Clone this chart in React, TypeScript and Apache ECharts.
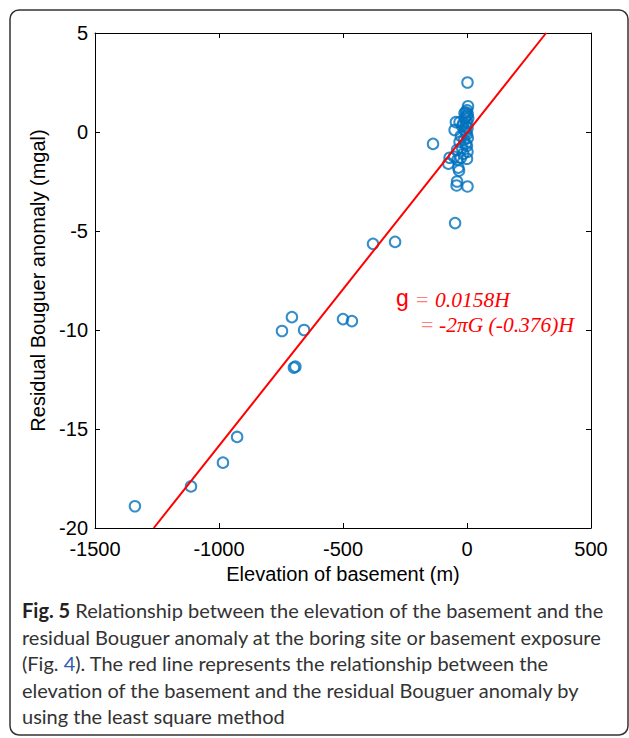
import React, { useEffect, useRef } from "react";
import * as echarts from "echarts";

// Elevation of basement (m) and residual Bouguer anomaly (mgal)
const elevation: number[] = [
  -1339, -1113, -984, -927, -746, -706, -657, -698, -692, -500, -464, -379, -290, -137, -48, 2,
  4, 0, -5, -10, 3, -2, -8, 5, -45, -30, 0, -15, -3, -20, 2, -50, -10, -5, 0, -25, 3, -12, -30,
  -5, 0, -20, -40, 2, -15, -52, -70, -38, 0, -75, -25, -35, -32, -40, -42, 2,
];
const anomaly: number[] = [
  -18.9, -17.9, -16.7, -15.4, -10.05, -9.35, -10.0, -11.9, -11.85, -9.45, -9.55, -5.65, -5.55, -0.6, -4.6, 2.5,
  1.3, 1.1, 1.0, 0.95, 0.9, 0.8, 0.7, 0.7, 0.5, 0.5, 0.5, 0.45, 0.3, 0.3, 0.2, 0.1, 0.1, 0.0, -0.1, -0.2, -0.3, -0.4, -0.5,
  -0.6, -0.7, -0.8, -0.9, -1.0, -1.1, -1.25, -1.3, -1.4, -1.35, -1.6, -1.3, -1.8, -1.95, -2.5, -2.7, -2.75,
];

// Least-squares fit line endpoints (g = 0.0158H)
const fitLine: [number, number][] = [
  [-1263, -20],
  [319, 5],
];

const xTicks = { min: -1500, max: 500, step: 500 };
const yTicks = { min: -20, max: 5, step: 5 };

const captionLines: string[] = [
  "{b|Fig. 5} Relationship between the elevation of the basement and the",
  "residual Bouguer anomaly at the boring site or basement exposure",
  "(Fig. {blue|4}). The red line represents the relationship between the",
  "elevation of the basement and the residual Bouguer anomaly by",
  "using the least square method",
];

export default function App() {
  const ref = useRef<HTMLDivElement>(null);

  useEffect(() => {
    if (!ref.current) return;
    const chart = echarts.init(ref.current, undefined, { renderer: "svg" });
    const axisFont = { fontFamily: "Liberation Sans, Arial, sans-serif", fontSize: 20, color: "#000" };
    const lineStyle = { color: "#000", width: 1 };
    const plain = (v: number) => String(v);

    const points = elevation.map((x, i) => [x, anomaly[i]]);

    const capFont = "Lato, sans-serif";
    const capSize = 20;
    const captionGraphics = captionLines.map((t, i) => ({
      type: "text",
      left: 22,
      top: 612 + i * 26.5 - 12,
      style: {
        text: t,
        fontFamily: capFont,
        fontSize: capSize,
        fill: "#333",
        rich: {
          b: { fontFamily: capFont, fontSize: capSize, fontWeight: "bold", fill: "#222" },
          blue: { fontFamily: capFont, fontSize: capSize, fill: "#2a5db0" },
        },
      },
    }));

    const serif = "Liberation Serif, Times New Roman, serif";
    const eqText = (left: number, top: number, text: string, font: string, size: number, fill: string, italic = false) => ({
      type: "text",
      left,
      top,
      style: { text, fontFamily: font, fontSize: size, fontStyle: italic ? "italic" : "normal", fill },
    });

    chart.setOption({
      animation: false,
      backgroundColor: "#fff",
      grid: { left: 95, top: 33, width: 496, height: 495, containLabel: false },
      xAxis: [
        {
          type: "value",
          min: xTicks.min,
          max: xTicks.max,
          interval: xTicks.step,
          name: "Elevation of basement (m)",
          nameLocation: "middle",
          nameGap: 34,
          nameTextStyle: { ...axisFont },
          axisLine: { show: true, onZero: false, lineStyle },
          axisTick: { show: true, inside: true, length: 5, lineStyle },
          axisLabel: { ...axisFont, margin: 11, formatter: plain },
          splitLine: { show: false },
        },
        {
          type: "value",
          position: "top",
          min: xTicks.min,
          max: xTicks.max,
          interval: xTicks.step,
          axisLine: { show: true, onZero: false, lineStyle },
          axisTick: { show: true, inside: true, length: 5, lineStyle },
          axisLabel: { show: false },
          splitLine: { show: false },
        },
      ],
      yAxis: [
        {
          type: "value",
          min: yTicks.min,
          max: yTicks.max,
          interval: yTicks.step,
          name: "Residual Bouguer anomaly (mgal)",
          nameLocation: "middle",
          nameGap: 34,
          nameTextStyle: { ...axisFont },
          axisLine: { show: true, onZero: false, lineStyle },
          axisTick: { show: true, inside: true, length: 5, lineStyle },
          axisLabel: { ...axisFont, margin: 7, formatter: plain },
          splitLine: { show: false },
        },
        {
          type: "value",
          position: "right",
          min: yTicks.min,
          max: yTicks.max,
          interval: yTicks.step,
          axisLine: { show: true, onZero: false, lineStyle },
          axisTick: { show: true, inside: true, length: 5, lineStyle },
          axisLabel: { show: false },
          splitLine: { show: false },
        },
      ],
      series: [
        {
          type: "scatter",
          data: points,
          symbol: "circle",
          symbolSize: 10.5,
          itemStyle: { color: "rgba(0,0,0,0)", borderColor: "#0072BD", borderWidth: 2 },
          z: 2,
        },
        {
          type: "line",
          data: fitLine,
          showSymbol: false,
          symbol: "none",
          lineStyle: { color: "#FF0000", width: 2 },
          z: 3,
        },
      ],
      graphic: [
        {
          type: "rect",
          shape: { x: 10, y: 10, width: 618, height: 725, r: 9 },
          style: { fill: "none", stroke: "#333", lineWidth: 1.5 },
          z: -1,
        },
        eqText(396, 286, "g", "Liberation Sans, Arial, sans-serif", 23, "#ff0000"),
        eqText(416, 288, "=", serif, 22, "#ff8080"),
        eqText(435, 289, "0.0158H", serif, 21.5, "#ff0000", true),
        eqText(421, 313, "=", serif, 22, "#ff8080"),
        eqText(439, 314, "-2πG (-0.376)H", serif, 21.5, "#ff0000", true),
        ...captionGraphics,
      ],
    });
    return () => chart.dispose();
  }, []);

  return (
    <div
      ref={ref}
      style={{ position: "absolute", left: 0, top: 0, width: 629, height: 738 }}
    />
  );
}
